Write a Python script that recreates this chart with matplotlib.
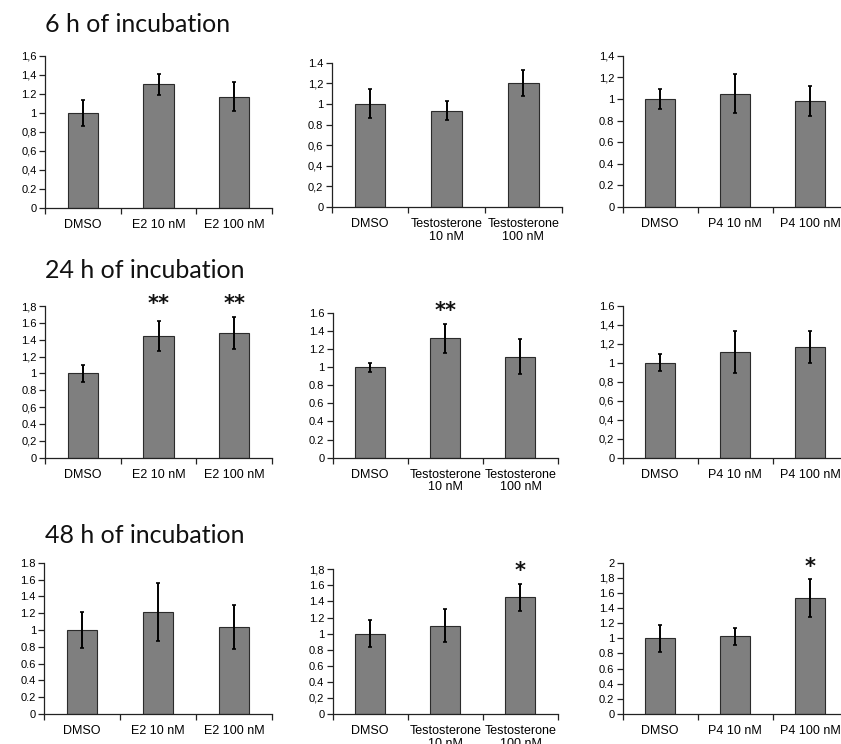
import matplotlib
matplotlib.use("Agg")
import matplotlib.pyplot as plt

# ---- data -------------------------------------------------------------
e2_labels = ["DMSO", "E2 10 nM", "E2 100 nM"]
testo_labels = ["DMSO", "Testosterone\n10 nM", "Testosterone\n100 nM"]
p4_labels = ["DMSO", "P4 10 nM", "P4 100 nM"]

row_titles = ["6 h of incubation", "24 h of incubation", "48 h of incubation"]

# 6 h
e2_6h = [1.00, 1.30, 1.17]
e2_6h_err = [0.135, 0.11, 0.15]
testo_6h = [1.00, 0.935, 1.205]
testo_6h_err = [0.14, 0.095, 0.125]
p4_6h = [1.00, 1.05, 0.98]
p4_6h_err = [0.09, 0.178, 0.14]

# 24 h
e2_24h = [1.00, 1.445, 1.485]
e2_24h_err = [0.105, 0.18, 0.19]
testo_24h = [1.00, 1.32, 1.115]
testo_24h_err = [0.05, 0.16, 0.195]
p4_24h = [1.00, 1.118, 1.17]
p4_24h_err = [0.09, 0.22, 0.167]

# 48 h
e2_48h = [1.00, 1.213, 1.035]
e2_48h_err = [0.21, 0.35, 0.26]
testo_48h = [1.00, 1.10, 1.45]
testo_48h_err = [0.17, 0.21, 0.17]
p4_48h = [1.00, 1.025, 1.533]
p4_48h_err = [0.175, 0.11, 0.25]

# significance marks per bar
e2_6h_sig = ["", "", ""]
testo_6h_sig = ["", "", ""]
p4_6h_sig = ["", "", ""]
e2_24h_sig = ["", "**", "**"]
testo_24h_sig = ["", "**", ""]
p4_24h_sig = ["", "", ""]
e2_48h_sig = ["", "", ""]
testo_48h_sig = ["", "", "*"]
p4_48h_sig = ["", "", "*"]

# y-axis upper limits
y_max = [[1.6, 1.4, 1.4], [1.8, 1.6, 1.6], [1.8, 1.8, 2.0]]

# y tick label texts (decimal separators as printed)
yt_labels = [
    [["0", "0.2", "0,4", "0,6", "0,8", "1", "1.2", "1,4", "1,6"],
     ["0", "0,2", "0,4", "0,6", "0.8", "1", "1,2", "1.4"],
     ["0", "0.2", "0.4", "0.6", "0.8", "1", "1,2", "1,4"]],
    [["0", "0,2", "0.4", "0,6", "0.8", "1", "1,2", "1.4", "1.6", "1,8"],
     ["0", "0.2", "0.4", "0.6", "0.8", "1", "1.2", "1.4", "1.6"],
     ["0", "0,2", "0,4", "0,6", "0,8", "1", "1,2", "1,4", "1.6"]],
    [["0", "0.2", "0.4", "0.6", "0.8", "1", "1.2", "1.4", "1.6", "1.8"],
     ["0", "0,2", "0.4", "0.6", "0.8", "1", "1.2", "1.4", "1.6", "1,8"],
     ["0", "0.2", "0.4", "0.6", "0.8", "1", "1.2", "1.4", "1.6", "1,8", "2"]],
]

panels = [
    [(e2_labels, e2_6h, e2_6h_err, e2_6h_sig),
     (testo_labels, testo_6h, testo_6h_err, testo_6h_sig),
     (p4_labels, p4_6h, p4_6h_err, p4_6h_sig)],
    [(e2_labels, e2_24h, e2_24h_err, e2_24h_sig),
     (testo_labels, testo_24h, testo_24h_err, testo_24h_sig),
     (p4_labels, p4_24h, p4_24h_err, p4_24h_sig)],
    [(e2_labels, e2_48h, e2_48h_err, e2_48h_sig),
     (testo_labels, testo_48h, testo_48h_err, testo_48h_sig),
     (p4_labels, p4_48h, p4_48h_err, p4_48h_sig)],
]

# ---- layout (pixel boxes: left, right, top, bottom) --------------------
W, H = 841, 744
boxes = [
    [(45, 272, 55.7, 208), (331.7, 561.7, 62.7, 207), (622.7, 848, 55.7, 207)],
    [(45, 272, 306, 457.7), (332.7, 558, 312.7, 457.7), (622.7, 848, 306, 457.7)],
    [(44.3, 272, 562.7, 714), (332.7, 558, 569.3, 714), (622.7, 848, 562.7, 714)],
]
title_baseline = [32, 278, 543]

fig = plt.figure(figsize=(W / 100, H / 100), dpi=100)
fig.patch.set_facecolor("white")

tick_font = "Liberation Sans"
bar_color = "#7f7f7f"
edge_color = "#2b2b2b"

for r in range(3):
    fig.text(45 / W, 1 - title_baseline[r] / H, row_titles[r],
             fontsize=18, family="Lato", color="#111111",
             ha="left", va="baseline")
    for c in range(3):
        labels, vals, errs, sig = panels[r][c]
        x0, x1, yt, yb = boxes[r][c]
        ax = fig.add_axes([x0 / W, 1 - yb / H, (x1 - x0) / W, (yb - yt) / H])
        xs = list(range(len(vals)))
        ax.bar(xs, vals, width=0.4, color=bar_color, edgecolor=edge_color,
               linewidth=0.8, zorder=2)
        ax.errorbar(xs, vals, yerr=errs, fmt="none", ecolor="black",
                    elinewidth=1.4, capsize=1.6, capthick=1.2, zorder=3)

        ymax = y_max[r][c]
        ax.set_xlim(-0.5, len(vals) - 0.5)
        ax.set_ylim(0, ymax)
        nt = len(yt_labels[r][c])
        ax.set_yticks([0.2 * i for i in range(nt)])
        ax.set_yticklabels(yt_labels[r][c], family=tick_font, fontsize=8)

        # category labels centred under bars, ticks at category boundaries
        ax.set_xticks([i - 0.5 for i in range(len(vals) + 1)])
        ax.set_xticklabels([])
        ax.set_xticks(xs, minor=True)
        ax.set_xticklabels(labels, minor=True, family=tick_font,
                           fontsize=9, linespacing=1.05)
        ax.tick_params(axis="x", which="minor", length=0, pad=8)
        ax.tick_params(axis="x", which="major", length=4, width=0.9,
                       direction="out", color="#222222")
        ax.tick_params(axis="y", length=4, width=0.9, direction="out",
                       color="#222222", pad=2)

        for s in ("top", "right"):
            ax.spines[s].set_visible(False)
        for s in ("left", "bottom"):
            ax.spines[s].set_color("#222222")
            ax.spines[s].set_linewidth(0.9)
        ax.set_facecolor("none")

        top = max(v + e for v, e in zip(vals, errs))
        for i, mark in enumerate(sig):
            if mark:
                ax.annotate(mark, (xs[i], top), xytext=(0, 9),
                            textcoords="offset points", ha="center",
                            va="center", fontsize=15, fontweight="bold",
                            family="DejaVu Sans", color="#111111",
                            annotation_clip=False)

fig.savefig("out.png", dpi=100, facecolor="white")
